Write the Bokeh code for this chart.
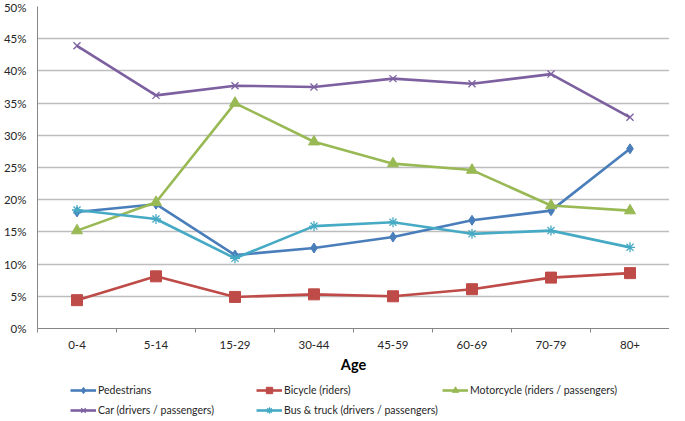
import numpy as np
from bokeh.plotting import figure
from bokeh.layouts import column
from bokeh.models import (FixedTicker, PrintfTickFormatter,
                          Legend, LegendItem, Range1d)
from bokeh.embed import file_html
from bokeh.resources import INLINE

ages = ["0-4", "5-14", "15-29", "30-44", "45-59", "60-69", "70-79", "80+"]
pedestrians = [18.1, 19.3, 11.4, 12.5, 14.2, 16.8, 18.3, 27.9]
bicycle = [4.4, 8.1, 4.9, 5.3, 5.0, 6.1, 7.9, 8.6]
motorcycle = [15.2, 19.6, 35.0, 29.0, 25.6, 24.6, 19.1, 18.3]
car = [43.9, 36.2, 37.7, 37.5, 38.8, 38.0, 39.5, 32.8]
bus_truck = [18.4, 17.0, 10.9, 15.9, 16.5, 14.7, 15.2, 12.6]
y_ticks = [0, 5, 10, 15, 20, 25, 30, 35, 40, 45, 50]

names = ["Pedestrians", "Bicycle (riders)", "Motorcycle (riders / passengers)",
         "Car (drivers / passengers)", "Bus & truck (drivers / passengers)"]
series = [pedestrians, bicycle, motorcycle, car, bus_truck]
colors = ["#4A7EBB", "#BE4B48", "#98B954", "#7D60A0", "#46AAC5"]
markers = ["diamond", "square", "triangle", "x", "asterisk"]
msizes = [10, 11, 11, 10, 10]

FONT = "Lato"
TXT = "#262626"

xs = np.arange(len(ages)) + 0.5


def add_series(fig, vals, c, m, s):
    r1 = fig.line(xs, vals, line_color=c, line_width=2.6)
    if m in ("x", "asterisk"):
        r2 = fig.scatter(xs, vals, marker=m, size=s, line_color=c, line_width=1.3)
    else:
        r2 = fig.scatter(xs, vals, marker=m, size=s, fill_color=c, line_color=c)
    return r1, r2


p = figure(width=669, height=375, output_backend="svg", toolbar_location=None,
           x_range=Range1d(0, len(ages)), y_range=Range1d(0, 50),
           min_border_left=28, min_border_right=0, min_border_top=6,
           min_border_bottom=0)
p.outline_line_color = None
p.background_fill_color = "white"
p.border_fill_color = "white"

# x axis
p.xaxis.ticker = FixedTicker(ticks=list(xs), minor_ticks=list(range(len(ages) + 1)))
p.xaxis.major_label_overrides = {float(x): a for x, a in zip(xs, ages)}
p.xaxis.major_tick_line_color = None
p.xaxis.minor_tick_in = 0
p.xaxis.minor_tick_out = 4
p.xaxis.minor_tick_line_color = "#868686"
p.xaxis.axis_line_color = "#868686"
p.xaxis.major_label_text_font = FONT
p.xaxis.major_label_text_font_size = "11.5px"
p.xaxis.major_label_text_color = TXT
p.xaxis.major_label_standoff = 6
p.xaxis.axis_label = "Age"
p.xaxis.axis_label_text_font = FONT
p.xaxis.axis_label_text_font_style = "bold"
p.xaxis.axis_label_text_font_size = "14.5px"
p.xaxis.axis_label_text_color = "#000000"
p.xaxis.axis_label_standoff = 4

# y axis
p.yaxis.ticker = FixedTicker(ticks=y_ticks)
p.yaxis.formatter = PrintfTickFormatter(format="%d%%")
p.yaxis.major_tick_line_color = None
p.yaxis.minor_tick_line_color = None
p.yaxis.axis_line_color = "#868686"
p.yaxis.major_label_text_font = FONT
p.yaxis.major_label_text_font_size = "11.5px"
p.yaxis.major_label_text_color = TXT
p.yaxis.major_label_standoff = 5

p.xgrid.grid_line_color = None
p.ygrid.ticker = FixedTicker(ticks=y_ticks)
p.ygrid.grid_line_color = "#BDBDBD"
p.ygrid.grid_line_width = 1.3

for vals, c, m, s in zip(series, colors, markers, msizes):
    add_series(p, vals, c, m, s)

# legend strip below the chart (same series, outside this strip's view)
pl = figure(width=669, height=44, output_backend="svg", toolbar_location=None,
            x_range=Range1d(0, len(ages)), y_range=Range1d(60, 61),
            x_axis_type=None, y_axis_type=None,
            min_border_left=0, min_border_right=0, min_border_top=0,
            min_border_bottom=0)
pl.outline_line_color = None
pl.xgrid.grid_line_color = None
pl.ygrid.grid_line_color = None

items = []
for name, vals, c, m, s in zip(names, series, colors, markers, msizes):
    r1, r2 = add_series(pl, vals, c, m, s)
    items.append(LegendItem(label=name, renderers=[r1, r2]))

lg = Legend(items=items, location=(33, 1), orientation="horizontal", ncols=3,
            border_line_color=None, background_fill_alpha=0,
            padding=0, margin=0, spacing=4, glyph_width=26, glyph_height=16,
            label_height=16, label_width=154, label_standoff=2,
            label_text_font=FONT, label_text_font_size="10.5px",
            label_text_color=TXT)
pl.add_layout(lg, "center")

layout = column(p, pl, spacing=0)
open("out.html", "w").write(file_html(layout, INLINE))
